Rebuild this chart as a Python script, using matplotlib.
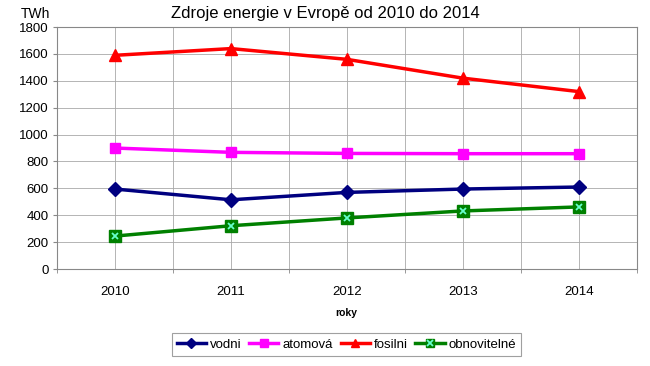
import matplotlib
matplotlib.use("Agg")
import matplotlib.pyplot as plt
from matplotlib.legend_handler import HandlerTuple

plt.rcParams['font.family'] = ['Liberation Sans', 'DejaVu Sans']

years = ['2010', '2011', '2012', '2013', '2014']
vodni = [595, 515, 570, 595, 610]
atomova = [900, 868, 860, 858, 858]
fosilni = [1590, 1640, 1560, 1420, 1320]
obnovitelne = [245, 322, 380, 432, 462]

fig = plt.figure(figsize=(6.5, 3.66), dpi=100)
ax = fig.add_axes([0.0877, 0.265, 0.892, 0.661])
x = list(range(len(years)))

l1, = ax.plot(x, vodni, color='#000080', lw=2.5, marker='D', ms=7, label='vodni', zorder=3)
l2, = ax.plot(x, atomova, color='#FF00FF', lw=2.5, marker='s', ms=7, label='atomová', zorder=3)
l3, = ax.plot(x, fosilni, color='#FF0000', lw=2.5, marker='^', ms=8, label='fosilni', zorder=3)
l4, = ax.plot(x, obnovitelne, color='#008000', lw=2.5, marker='s', ms=8, label='obnovitelné', zorder=3)
l4x, = ax.plot(x, obnovitelne, ls='none', marker='x', ms=5, mew=1.3, color='#66FFCC', zorder=4)

ax.set_xlim(-0.5, 4.5)
ax.set_ylim(0, 1800)
ax.set_yticks(range(0, 1801, 200))
ax.set_xticks(x)
ax.set_xticklabels(years)
ax.set_xticks([i - 0.5 for i in range(6)], minor=True)
ax.grid(True, which='both', color='#a8a8a8', lw=0.6)
ax.tick_params(which='major', length=0, labelsize=9.5, pad=5)
ax.tick_params(axis='y', which='major', length=3, color='#888888', pad=3)
ax.tick_params(axis='x', which='minor', length=3, color='#888888')
ax.tick_params(axis='x', which='major', pad=12)
for s in ax.spines.values():
    s.set_color('#888888')
    s.set_linewidth(0.8)
ax.set_axisbelow(True)

fig.text(0.5, 0.962, 'Zdroje energie v Evropě od 2010 do 2014', ha='center', va='center', fontsize=12)
fig.text(0.054, 0.962, 'TWh', ha='center', va='center', fontsize=10)
fig.text(0.533, 0.145, 'roky', ha='center', va='center', fontsize=7.5, fontweight='bold')

leg = fig.legend([l1, l2, l3, (l4, l4x)], ['vodni', 'atomová', 'fosilni', 'obnovitelné'],
                 handler_map={tuple: HandlerTuple(ndivide=1)},
                 loc='center', bbox_to_anchor=(0.533, 0.058), ncol=4, fontsize=9.5,
                 frameon=True, fancybox=False, edgecolor='#888888', handlelength=2.2,
                 handletextpad=0.3, columnspacing=0.6, borderpad=0.4, markerscale=0.8)
leg.get_frame().set_linewidth(0.8)

fig.savefig('out.png', dpi=100)
